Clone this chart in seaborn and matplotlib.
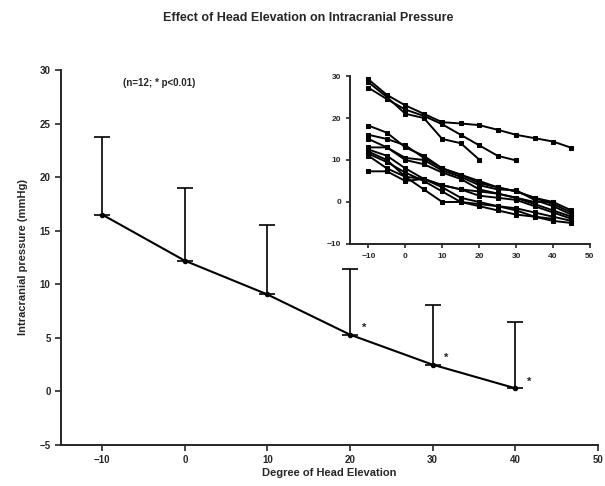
import numpy as np
import pandas as pd
import matplotlib
matplotlib.use("Agg")
import matplotlib.pyplot as plt
import seaborn as sns

# Main chart data (mean and upper SD)
degrees = [-10, 0, 10, 20, 30, 40]
mean_icp = [16.5, 12.2, 9.05, 5.3, 2.5, 0.3]
sd_icp = [7.2, 6.8, 6.45, 6.1, 5.6, 6.2]
sig_degrees = [20, 30, 40]
sig_values = [5.3, 2.5, 0.3]

# Inset: individual patients
ind_deg = [-10, -5, 0, 5, 10, 15, 20, 25, 30, 35, 40, 45]
p1 = [29.2, 25.5, 23.0, 21.0, 19.0, 18.7, 18.3, 17.2, 16.0, 15.2, 14.4, 12.9]
p2 = [27.2, 24.5, 22.0, 20.5, 18.5, 16.0, 13.5, 11.0, 9.9, None, None, None]
p3 = [28.5, 25.0, 21.0, 20.0, 15.0, 14.0, 10.1, None, None, None, None, None]
p4 = [18.2, 16.5, 13.0, 11.0, 8.0, 6.5, 4.5, 3.5, 2.5, 1.0, 0.0, -2.0]
p5 = [16.0, 15.0, 13.5, 10.5, 8.0, 6.5, 5.0, 3.5, 2.5, 1.0, -0.5, -2.5]
p6 = [15.0, 13.0, 10.5, 10.0, 7.5, 6.0, 4.0, 3.0, 2.8, 0.5, -1.0, -3.0]
p7 = [13.0, 13.0, 10.0, 9.0, 7.0, 5.5, 3.0, 2.0, 1.0, -0.5, -2.0, -3.5]
p8 = [12.0, 10.0, 6.0, 5.5, 4.0, 3.0, 1.5, 1.0, 0.5, -1.0, -2.5, -4.0]
p9 = [11.5, 9.5, 7.0, 5.0, 2.5, 0.0, -0.5, -1.0, -1.5, -2.5, -3.5, -4.5]
p10 = [11.0, 8.0, 6.0, 3.0, 0.0, 0.0, -1.0, -2.0, -3.0, -3.5, -4.5, -5.0]
p11 = [7.3, 7.3, 5.0, 5.5, 3.5, 1.0, 0.0, -1.0, -2.0, -3.5, -4.0, None]
p12 = [12.5, 11.0, 8.0, 5.5, 4.0, 3.0, 2.5, 2.0, 1.0, 0.0, 0.0, None]
patients = [p1, p2, p3, p4, p5, p6, p7, p8, p9, p10, p11, p12]

title = "Effect of Head Elevation on Intracranial Pressure"
xlabel = "Degree of Head Elevation"
ylabel = "Intracranial pressure (mmHg)"
note = "(n=12; * p<0.01)"

sns.set_style("ticks")
plt.rcParams["font.family"] = ["Liberation Sans", "DejaVu Sans"]
plt.rcParams["font.weight"] = "bold"

fig = plt.figure(figsize=(6.05, 4.86), dpi=100)
ax = fig.add_axes([0.1008, 0.0844, 0.887, 0.7716])

main_df = pd.DataFrame({"deg": degrees, "icp": mean_icp})
sns.lineplot(data=main_df, x="deg", y="icp", ax=ax, color="black", lw=1.5,
             marker="o", markersize=3.2, markeredgecolor="black")
ax.errorbar(degrees, mean_icp, yerr=[np.zeros(len(sd_icp)), sd_icp], fmt="none",
            ecolor="black", elinewidth=1.2, capsize=5.5, capthick=1.2)
for d, v in zip(sig_degrees, sig_values):
    ax.text(d + 1.7, v + 0.6, "*", fontsize=8, ha="center", va="center", fontweight="bold")

ax.set_xlim(-15, 50)
ax.set_ylim(-5, 30)
ax.set_xticks([-10, 0, 10, 20, 30, 40, 50])
ax.set_yticks([-5, 0, 5, 10, 15, 20, 25, 30])
ax.tick_params(labelsize=7, width=1.2, length=4)
for lab in ax.get_xticklabels() + ax.get_yticklabels():
    lab.set_fontweight("bold")
ax.set_xlabel(xlabel, fontsize=8, fontweight="bold", labelpad=2)
ax.set_ylabel(ylabel, fontsize=8, fontweight="bold", labelpad=8)
for s in ["left", "bottom"]:
    ax.spines[s].set_linewidth(1.4)
sns.despine(ax=ax)
ax.text(0.115, 0.965, note, transform=ax.transAxes, fontsize=7, fontweight="bold", va="center")

fig.suptitle(title, x=0.51, y=0.975, fontsize=9, fontweight="bold")

# Inset
ax2 = fig.add_axes([0.5785, 0.498, 0.3965, 0.3456])
for i, p in enumerate(patients):
    df = pd.DataFrame({"deg": ind_deg, "icp": p}).dropna()
    sns.lineplot(data=df, x="deg", y="icp", ax=ax2, color="black", lw=1.4,
                 marker="s", markersize=3.5, markeredgecolor="black")
ax2.set_xlim(-15, 50)
ax2.set_ylim(-10, 30)
ax2.set_xticks([-10, 0, 10, 20, 30, 40, 50])
ax2.set_yticks([-10, 0, 10, 20, 30])
ax2.tick_params(labelsize=6, width=1.2, length=3)
for lab in ax2.get_xticklabels() + ax2.get_yticklabels():
    lab.set_fontweight("bold")
ax2.set_xlabel("")
ax2.set_ylabel("")
for s in ["left", "bottom"]:
    ax2.spines[s].set_linewidth(1.4)
sns.despine(ax=ax2)

fig.savefig("out.png", dpi=100)
